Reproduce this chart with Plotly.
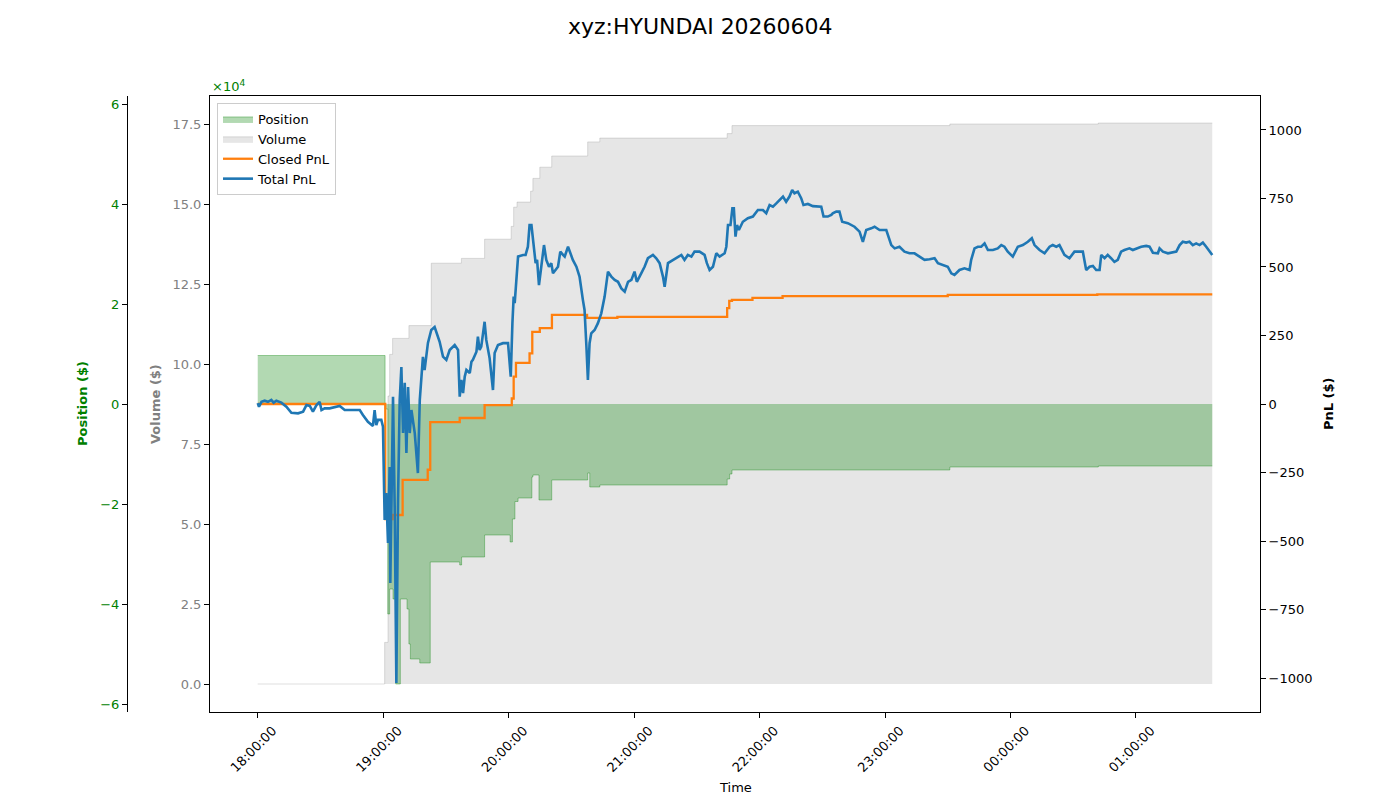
import pandas as pd
import plotly.graph_objects as go

# ---------------- data (minutes after 18:00 on 2026-06-04) ----------------
total_pnl_min = [
    0, 0.6, 1.8, 3.3, 4.9, 6.5, 7.6, 8.9, 11.3, 13.7,
    16.1, 19.3, 21.7, 23.3, 24.9, 26.4, 28.1, 29.6, 30.5, 32.0,
    34.4, 37.6, 39.2, 41.6, 44.0, 48.8, 50.3, 52.7, 55.1, 55.9,
    56.7, 57.5, 59.1, 59.9, 60.7, 61.5, 62.3, 63.1, 63.4, 64.2,
    64.7, 65.5, 66.3, 67.1, 67.9, 68.7, 69.5, 70.3, 71.1, 71.9,
    72.7, 73.5, 75.1, 76.6, 77.5, 79.0, 79.8, 81.4, 83.0, 84.6,
    87.0, 88.6, 90.2, 91.8, 94.2, 95.8, 96.6, 97.4, 98.2, 99.0,
    99.8, 101.4, 102.2, 102.9, 104.6, 105.3, 106.1, 106.9, 108.5, 109.3,
    110.9, 112.5, 113.3, 114.9, 117.3, 119.7, 121.0, 121.8, 122.4, 122.9,
    123.7, 124.5, 126.9, 128.1, 129.2, 130.0, 130.9, 131.6, 132.9, 133.6,
    134.5, 135.6, 136.9, 138.0, 139.3, 140.4, 141.2, 143.6, 144.7, 146.0,
    146.8, 148.4, 150.7, 152.4, 153.9, 155.5, 156.3, 157.2, 157.9, 158.7,
    159.5, 161.1, 162.7, 164.3, 165.9, 167.5, 169.1, 170.7, 172.3, 173.9,
    175.5, 177.1, 178.7, 180.2, 181.3, 183.4, 185.0, 186.6, 189.0, 190.6,
    192.2, 193.8, 194.6, 196.2, 198.6, 201.0, 202.6, 204.1, 205.7, 207.4,
    208.9, 211.3, 213.7, 214.8, 216.1, 217.7, 219.3, 220.9, 223.3, 224.1,
    224.9, 226.1, 227.0, 227.7, 228.5, 229.2, 230.1, 232.0, 234.4, 236.8,
    239.2, 241.6, 243.2, 244.8, 246.4, 248.0, 249.6, 251.2, 252.7, 254.3,
    255.6, 256.7, 258.3, 259.9, 261.0, 263.1, 265.5, 267.9, 269.5, 270.6,
    272.6, 274.3, 275.0, 276.7, 278.2, 279.5, 282.2, 285.4, 287.8, 289.4,
    291.0, 293.4, 295.0, 297.4, 300.6, 303.0, 304.6, 306.9, 309.3, 311.7,
    314.1, 316.5, 318.9, 321.3, 323.7, 325.3, 327.6, 330.0, 331.7, 333.2,
    335.6, 338.0, 340.4, 341.2, 342.8, 344.4, 346.0, 347.6, 349.2, 351.6,
    353.9, 355.6, 357.1, 358.7, 361.1, 363.5, 365.9, 368.3, 370.2, 371.5,
    373.9, 376.3, 378.7, 380.2, 381.9, 383.4, 385.8, 388.2, 390.6, 392.2,
    394.6, 396.2, 397.8, 399.4, 401.0, 402.6, 403.4, 405.0, 406.5, 408.1,
    409.7, 411.3, 412.9, 414.5, 416.9, 418.5, 420.9, 422.5, 424.9, 426.5,
    428.1, 430.5, 431.3, 432.9, 435.3, 437.7, 439.3, 440.9, 442.4, 444.0,
    445.6, 447.2, 448.8, 450.4, 452.0, 453.6, 455.2, 456.5,
]
total_pnl = [
    3, -10, 8, 12, 8, 15, 5, 12, 5, -10,
    -32, -34, -28, -4, -7, -28, -4, 8, -22, -16,
    -16, -10, -7, -22, -22, -22, -40, -65, -80, -22,
    -77, -58, -58, -83, -423, -325, -507, -230, -653, -266,
    26, -376, -1018, -350, 15, 135, -106, 77, -179, 62,
    -106, -22, -106, -252, 15, 172, 124, 223, 270, 281,
    227, 173, 161, 197, 215, 197, 27, 88, 40, 100,
    124, 113, 154, 161, 191, 246, 197, 209, 300, 234,
    167, 51, 186, 215, 222, 222, 100, 295, 392, 368,
    446, 538, 544, 544, 574, 653, 653, 611, 514, 526,
    434, 501, 580, 526, 501, 514, 477, 501, 556, 544,
    538, 574, 526, 501, 465, 380, 343, 209, 88, 222,
    258, 270, 295, 331, 392, 483, 465, 453, 446, 422,
    410, 446, 453, 483, 446, 477, 501, 532, 544, 532,
    514, 465, 428, 514, 526, 538, 544, 526, 544, 538,
    556, 556, 544, 514, 489, 501, 550, 538, 550, 574,
    653, 653, 714, 714, 611, 653, 635, 665, 678, 684,
    708, 708, 696, 726, 720, 732, 745, 757, 738, 757,
    781, 769, 775, 751, 726, 730, 722, 720, 720, 684,
    684, 690, 696, 702, 702, 665, 660, 647, 629, 592,
    635, 641, 647, 635, 635, 580, 568, 574, 556, 550,
    550, 538, 526, 528, 532, 514, 507, 501, 477, 471,
    489, 495, 489, 526, 568, 574, 574, 586, 562, 562,
    568, 580, 574, 556, 538, 574, 580, 592, 605, 580,
    562, 550, 574, 580, 574, 580, 544, 532, 556, 556,
    556, 489, 501, 504, 489, 489, 544, 532, 544, 532,
    519, 526, 556, 562, 568, 562, 568, 574, 577, 574,
    552, 550, 568, 556, 550, 552, 556, 580, 592, 589,
    592, 580, 586, 580, 589, 574, 556, 544,
]

closed_pnl_min = [0, 61.0, 64.5, 69.3, 81.3, 82.5, 96.6, 108.5, 121.5, 122.4,
                  123.5, 130.0, 131.3, 134.9, 140.7, 157.5, 172.0, 224.5, 225.5, 226.8,
                  236.6, 251.0, 330.0, 401.5, 456.5]
closed_pnl = [0, -420, -405, -277, -240, -66, -51, -4, 20, 100,
              150, 185, 263, 277, 325, 314, 318, 350, 376, 380,
              387, 394, 398, 400, 400]

position_min = [0, 60.9, 62.2, 63.1, 64.7, 66.0, 68.2, 71.4, 72.3, 73.0,
                77.5, 82.5, 96.6, 97.5, 108.5, 120.7, 121.8, 123.0, 124.5, 131.1,
                131.6, 134.5, 140.6, 157.8, 158.8, 163.6, 224.5, 225.7, 226.8, 331.0,
                402.0, 456.5]
position = [9700, -1000, -42000, -37000, -39000, -56000, -39000, -41000, -48000, -51000,
            -51800, -31600, -32200, -30600, -26200, -27600, -23000, -19500, -18800, -14600,
            -14200, -19200, -15200, -13800, -16600, -16200, -15000, -14000, -13200, -12600,
            -12400, -12400]

volume_min = [0, 60.7, 62.3, 63.1, 64.5, 72.3, 83.0, 97.4, 108.5, 121.2,
              122.4, 124.0, 130.5, 131.6, 134.9, 140.6, 157.8, 163.6, 224.5, 226.8,
              331.0, 402.0, 456.5]
volume = [0, 13000, 90000, 103000, 108000, 112000, 131500, 133000, 139000, 143000,
          149000, 150600, 154000, 158000, 161500, 165000, 169400, 170600, 172000, 174500,
          175000, 175300, 175300]

time_ticks = ["18:00:00", "19:00:00", "20:00:00", "21:00:00", "22:00:00",
              "23:00:00", "00:00:00", "01:00:00"]
position_ticks = [-6, -4, -2, 0, 2, 4, 6]
volume_ticks = [0.0, 2.5, 5.0, 7.5, 10.0, 12.5, 15.0, 17.5]
pnl_ticks = [-1000, -750, -500, -250, 0, 250, 500, 750, 1000]

# ---------------- helpers ----------------
t0 = pd.Timestamp("2026-06-04 18:00:00")


def to_time(mins):
    return [t0 + pd.Timedelta(minutes=m) for m in mins]


def mfmt(v, fmt="{:g}"):
    s = fmt.format(v)
    return s.replace("-", "\u2212")


W, H = 1400, 800
L, R, T, B = 210, 1260, 96, 712
xdom = [L / W, R / W]
ydom = [1 - B / H, 1 - T / H]
FONT = "DejaVu Sans"

span = max(total_pnl_min) - min(total_pnl_min)
x_range = [t0 + pd.Timedelta(minutes=min(total_pnl_min) - 0.05 * span),
           t0 + pd.Timedelta(minutes=max(total_pnl_min) + 0.05 * span)]
tick_times = [t0 + pd.Timedelta(hours=i) for i in range(len(time_ticks))]

fig = go.Figure()
fig.add_trace(go.Scatter(
    x=to_time(volume_min), y=volume, name="Volume", mode="lines", yaxis="y",
    line=dict(shape="hv", color="rgba(128,128,128,0.25)", width=1),
    fill="tozeroy", fillcolor="rgba(128,128,128,0.2)", legendrank=2))
fig.add_trace(go.Scatter(
    x=to_time(position_min), y=position, name="Position", mode="lines", yaxis="y2",
    line=dict(shape="hv", color="rgba(0,128,0,0.35)", width=1),
    fill="tozeroy", fillcolor="rgba(0,128,0,0.3)", legendrank=1))
fig.add_trace(go.Scatter(
    x=to_time(closed_pnl_min), y=closed_pnl, name="Closed PnL", mode="lines", yaxis="y3",
    line=dict(shape="hv", color="#ff7f0e", width=2.3), legendrank=3))
fig.add_trace(go.Scatter(
    x=to_time(total_pnl_min), y=total_pnl, name="Total PnL", mode="lines", yaxis="y3",
    line=dict(color="#1f77b4", width=2.6), legendrank=4))

axis_common = dict(showgrid=False, zeroline=False, showline=True, linecolor="black",
                   linewidth=1, ticks="outside", ticklen=5, tickcolor="black",
                   tickfont=dict(family=FONT, size=13))

fig.update_layout(
    width=W, height=H, margin=dict(l=0, r=0, t=0, b=0),
    paper_bgcolor="white", plot_bgcolor="white",
    font=dict(family=FONT, size=13, color="black"),
    xaxis=dict(domain=xdom, range=x_range, tickvals=tick_times, ticktext=time_ticks,
               tickangle=-45, ticklabelshift=15, mirror=True, anchor="y", **axis_common),
    yaxis=dict(domain=ydom, range=[-8750, 183750],
               tickvals=[v * 1e4 for v in volume_ticks],
               ticktext=["{:.1f}".format(v) for v in volume_ticks],
               side="left", anchor="x",
               **{**axis_common, "tickfont": dict(family=FONT, size=13, color="gray")}),
    yaxis2=dict(domain=ydom, range=[-61600, 61600], overlaying="y", anchor="free",
                position=127 / W, side="left",
                tickvals=[v * 1e4 for v in position_ticks],
                ticktext=[mfmt(v) for v in position_ticks],
                **{**axis_common, "tickfont": dict(family=FONT, size=13, color="green")}),
    yaxis3=dict(domain=ydom, range=[-1124, 1124], overlaying="y", anchor="x", side="right",
                tickvals=pnl_ticks, ticktext=[mfmt(v) for v in pnl_ticks], **axis_common),
    legend=dict(x=217 / W, y=1 - 103 / H, xanchor="left", yanchor="top",
                bgcolor="rgba(255,255,255,0.8)", bordercolor="#cccccc", borderwidth=1,
                font=dict(family=FONT, size=13), tracegroupgap=0),
    showlegend=True,
)

annos = [
    dict(text="xyz:HYUNDAI 20260604", x=0.5, y=1 - 27 / H, font=dict(size=22)),
    dict(text="<b>Position ($)</b>", x=82 / W, y=1 - 404 / H, textangle=-90,
         font=dict(size=13, color="green")),
    dict(text="<b>Volume ($)</b>", x=155 / W, y=1 - 404 / H, textangle=-90,
         font=dict(size=13, color="gray")),
    dict(text="<b>PnL ($)</b>", x=1328 / W, y=1 - 404 / H, textangle=-90,
         font=dict(size=13, color="black")),
    dict(text="Time", x=735 / W, y=1 - 787 / H, font=dict(size=13)),
    dict(text="\u00d710<sup>4</sup>", x=L / W, y=1 - 86 / H, xanchor="left",
         font=dict(size=13, color="green")),
]
for a in annos:
    base = dict(xref="paper", yref="paper", showarrow=False, xanchor="center", yanchor="middle")
    base.update(a)
    base["font"] = dict(family=FONT, **a["font"])
    fig.add_annotation(**base)

fig.write_html("out.html")
